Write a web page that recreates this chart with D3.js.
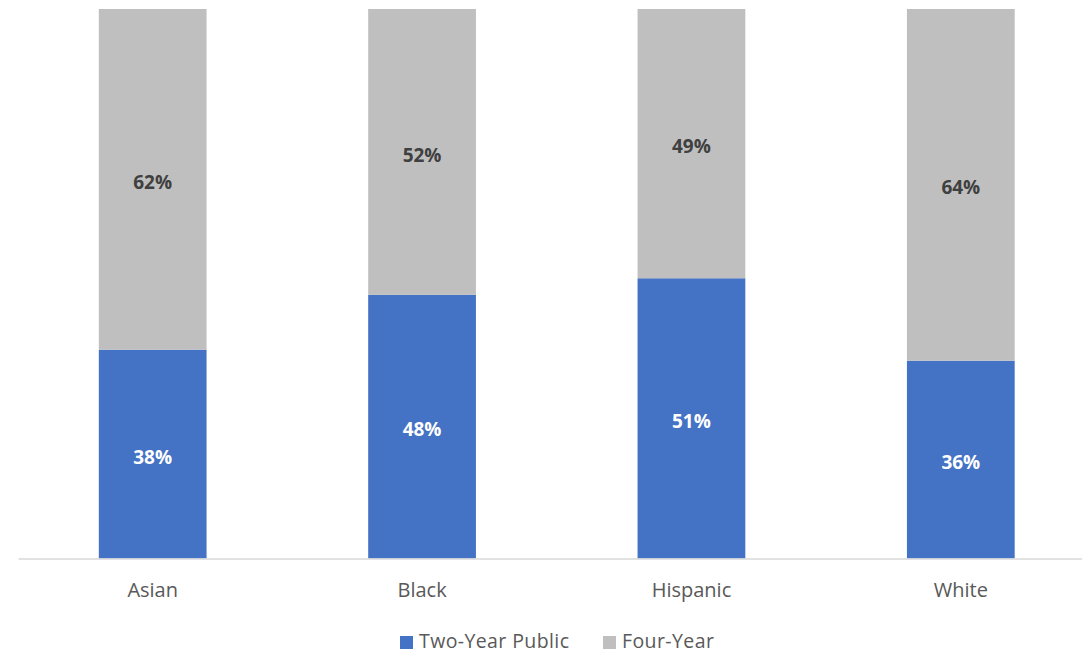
<!DOCTYPE html>
<html>
<head>
<meta charset="utf-8">
<script src="https://cdn.jsdelivr.net/npm/d3@7"></script>
<style>
  body { margin: 0; background: #fff; }
  svg { display: block; font-family: "Open Sans", "Noto Sans", sans-serif; }
</style>
</head>
<body>
<svg id="drawing_region"></svg>
<script>
// chart data
var categories = ['Asian', 'Black', 'Hispanic', 'White'];
var twoYearPublic = [38, 48, 51, 36];
var fourYear = [62, 52, 49, 64];
var seriesNames = ['Two-Year Public', 'Four-Year'];
var seriesColors = ['#4472C4', '#BFBFBF'];
var labelColors = ['#FFFFFF', '#404040'];

var width = 1082, height = 654;
var margin = {top: 9, bottom: 95, left: 18};

var svg = d3.select('#drawing_region')
    .attr('width', width)
    .attr('height', height);

var rows = categories.map((c, i) => ({label: c, two: twoYearPublic[i], four: fourYear[i]}));
var stack = d3.stack().keys(['two', 'four']);
var series = stack(rows);

var xscale = d3.scaleBand()
    .domain(categories)
    .range([margin.left, 1095.5])
    .paddingInner(0.6)
    .paddingOuter(0.3);

var yscale = d3.scaleLinear()
    .domain([0, 100])
    .range([height - margin.bottom - 0.5, margin.top]);

var groups = svg.selectAll('g.series').data(series).enter()
    .append('g')
    .attr('class', 'series')
    .attr('fill', (d, i) => seriesColors[i]);

groups.selectAll('rect').data(d => d).enter()
    .append('rect')
    .attr('x', d => xscale(d.data.label))
    .attr('y', d => yscale(d[1]))
    .attr('width', xscale.bandwidth())
    .attr('height', d => yscale(d[0]) - yscale(d[1]));

// value labels
series.forEach((s, i) => {
    svg.append('g').selectAll('text').data(s).enter()
        .append('text')
        .attr('x', d => xscale(d.data.label) + xscale.bandwidth() / 2)
        .attr('y', d => (yscale(d[0]) + yscale(d[1])) / 2 + 3)
        .attr('dy', '0.35em')
        .attr('text-anchor', 'middle')
        .attr('font-size', 19)
        .attr('font-weight', 'bold')
        .attr('fill', labelColors[i])
        .text(d => (d[1] - d[0]) + '%');
});

// x axis
var xaxis = d3.axisBottom(xscale).tickSize(0).tickPadding(24);
var xaxis_group = svg.append('g')
    .attr('transform', `translate(0, ${yscale(0)})`)
    .call(xaxis);
xaxis_group.select('.domain').attr('stroke', '#D9D9D9').attr('stroke-width', 1.5);
xaxis_group.selectAll('text')
    .attr('font-size', 20)
    .attr('font-family', '"Open Sans", "Noto Sans", sans-serif')
    .attr('fill', '#595959');

// legend
var legendItems = [{x: 400, name: seriesNames[0], color: seriesColors[0]},
                   {x: 603, name: seriesNames[1], color: seriesColors[1]}];
var legend = svg.append('g');
legend.selectAll('rect').data(legendItems).enter()
    .append('rect')
    .attr('x', d => d.x)
    .attr('y', 636)
    .attr('width', 13)
    .attr('height', 13)
    .attr('fill', d => d.color);
legend.selectAll('text').data(legendItems).enter()
    .append('text')
    .attr('x', d => d.x + 19)
    .attr('y', 648)
    .attr('font-size', 19.5)
    .attr('letter-spacing', 0.4)
    .attr('fill', '#595959')
    .text(d => d.name);
</script>
</body>
</html>
